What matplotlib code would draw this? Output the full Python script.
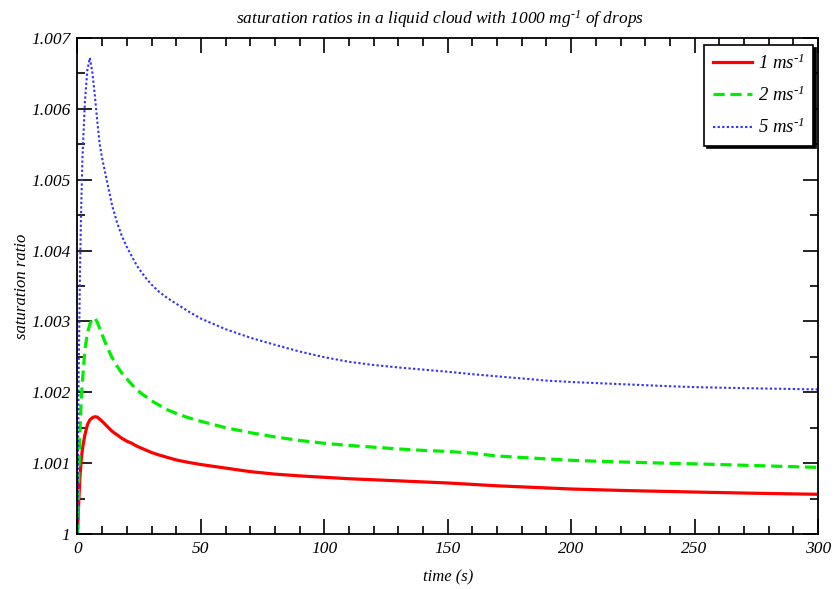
import matplotlib
matplotlib.use('Agg')
import matplotlib.pyplot as plt
import numpy as np
from matplotlib.ticker import MultipleLocator, FuncFormatter

# time (s)
time = [0, 0.5, 1, 1.5, 2, 3, 4, 5, 6, 7, 8, 9, 10,
        12, 14, 16, 18, 20, 22, 24, 26, 28, 30,
        33, 36, 40, 45, 50,
        60, 70, 80, 90, 100, 110, 120, 130, 140, 150, 160, 170, 180,
        190, 200, 210, 220, 230, 240, 250, 260, 270, 280, 290, 300]

# supersaturation in units of 1e-3 for each updraft speed
s_1ms = [0, 0.45, 0.8, 1.04, 1.2, 1.4, 1.54, 1.61, 1.64, 1.655, 1.65, 1.62, 1.59,
         1.52, 1.45, 1.40, 1.35, 1.31, 1.28, 1.24, 1.21, 1.18, 1.15,
         1.115, 1.085, 1.045, 1.01, 0.98,
         0.93, 0.88, 0.845, 0.82, 0.80, 0.78, 0.765, 0.75, 0.735, 0.72, 0.70,
         0.68, 0.665, 0.65, 0.635, 0.625, 0.615, 0.607, 0.60, 0.592, 0.585,
         0.578, 0.572, 0.566, 0.56]
s_2ms = [0, 0.8, 1.42, 1.89, 2.15, 2.6, 2.83, 2.96, 3.03, 3.05, 2.99, 2.9, 2.81,
         2.64, 2.49, 2.37, 2.27, 2.19, 2.11, 2.04, 1.98, 1.93, 1.88,
         1.82, 1.76, 1.70, 1.64, 1.59,
         1.50, 1.43, 1.37, 1.32, 1.28, 1.25, 1.225, 1.20, 1.18, 1.165, 1.14,
         1.10, 1.08, 1.06, 1.04, 1.028, 1.017, 1.007, 0.998, 0.99, 0.98,
         0.97, 0.96, 0.95, 0.94]
s_5ms = [0, 2.3, 3.7, 4.6, 5.3, 6.1, 6.55, 6.72, 6.52, 6.2, 5.83, 5.5, 5.3,
         4.97, 4.64, 4.4, 4.2, 4.05, 3.92, 3.79, 3.69, 3.6, 3.52,
         3.42, 3.34, 3.25, 3.14, 3.04,
         2.89, 2.77, 2.67, 2.575, 2.495, 2.43, 2.385, 2.35, 2.32, 2.29, 2.255,
         2.225, 2.195, 2.165, 2.145, 2.13, 2.115, 2.10, 2.085, 2.073, 2.065,
         2.058, 2.052, 2.046, 2.04]

labels = ['1 ms$^{\u20101}$', '2 ms$^{\u20101}$', '5 ms$^{\u20101}$']

plt.rcParams['font.family'] = 'Liberation Serif'
plt.rcParams['font.style'] = 'italic'
plt.rcParams['mathtext.fontset'] = 'custom'
plt.rcParams['mathtext.rm'] = 'Liberation Serif:italic'
plt.rcParams['mathtext.it'] = 'Liberation Serif:italic'
plt.rcParams['mathtext.default'] = 'it'

fig = plt.figure(figsize=(8.35, 5.89), dpi=100)
ax = fig.add_axes([0.0928, 0.0934, 0.8868, 0.8421])

t = np.array(time)
ax.plot(t, 1 + np.array(s_1ms) * 1e-3, color='#ff0000', lw=2.3, label=labels[0])
ax.plot(t, 1 + np.array(s_2ms) * 1e-3, color='#00ee00', lw=2.3,
        dashes=(3.5, 1.8), label=labels[1])
ax.plot(t, 1 + np.array(s_5ms) * 1e-3, color='#3333ff', lw=1.5,
        dashes=(1.1, 1.1), label=labels[2])

ax.set_xlim(0, 300)
ax.set_ylim(1, 1.007)
ax.xaxis.set_major_locator(MultipleLocator(50))
ax.xaxis.set_minor_locator(MultipleLocator(10))
ax.yaxis.set_major_locator(MultipleLocator(0.001))
ax.yaxis.set_minor_locator(MultipleLocator(0.0005))
ax.yaxis.set_major_formatter(FuncFormatter(
    lambda v, p: ('%.3f' % v).rstrip('0').rstrip('.')))

ax.tick_params(which='both', direction='in', top=True, right=True,
               width=1.2, labelsize=12.5)
ax.tick_params(which='major', length=11, pad=5)
ax.tick_params(which='minor', length=6)
for sp in ax.spines.values():
    sp.set_linewidth(1.3)

ax.set_xlabel('time (s)', fontsize=12, labelpad=9)
ax.set_ylabel('saturation ratio', fontsize=12, labelpad=1)
ax.set_title('saturation ratios in a liquid cloud with 1000 mg$^{\u20101}$ of drops',
             fontsize=12.5, pad=10, x=0.489)

leg = ax.legend(loc='upper right', bbox_to_anchor=(0.993, 0.986), fontsize=13.5,
                borderaxespad=0, fancybox=False,
                shadow={'color': 'black', 'alpha': 1},
                framealpha=1, edgecolor='black', handlelength=2.1,
                handletextpad=0.3, borderpad=0.45, labelspacing=0.68)
leg.get_frame().set_linewidth(1.2)

fig.savefig('out.png', dpi=100)
